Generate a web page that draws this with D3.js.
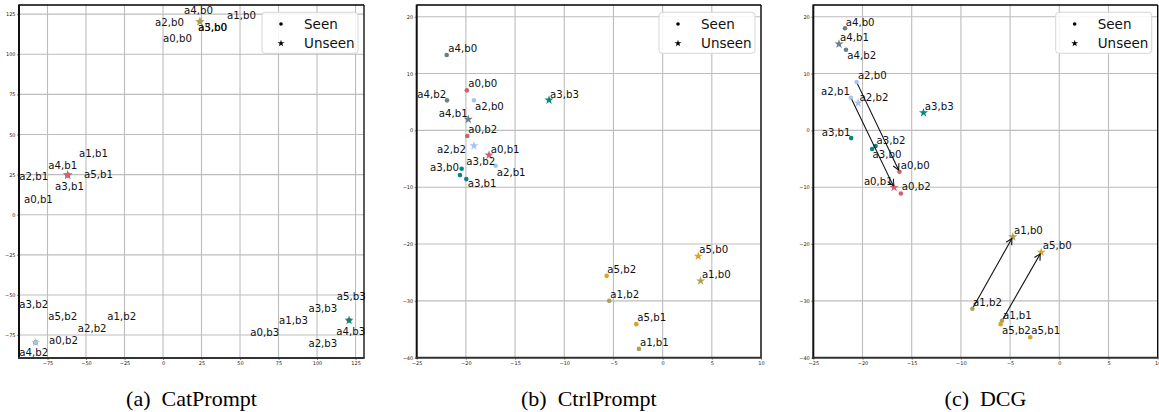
<!DOCTYPE html>
<html><head><meta charset="utf-8">
<script src="https://cdn.jsdelivr.net/npm/d3@7"></script>
<style>body{margin:0;background:#fff}svg{display:block}</style>
</head><body>
<script>
// ---------- data ----------
const attrColors = ["#d1606f","#a8a25a","#a6c3f7","#0a8580","#6d7d88","#dca32a"]; // a0..a5
const unseen = ["a4,b1","a0,b1","a5,b0","a1,b0","a2,b2","a3,b3"];
const legendItems = ["Seen","Unseen"];
const captions = ["(a)  CatPrompt","(b)  CtrlPrompt","(c)  DCG"];

const ticksA = [-75,-50,-25,0,25,50,75,100,125];
const xLimA = [-93.5,130.5], yLimA = [-89.3,130.7];
const ticksXB = [-25,-20,-15,-10,-5,0,5,10];
const ticksYB = [-40,-30,-20,-10,0,10,20];
const xLimB = [-25,10], yLimB = [-40,22.06];

// [name, x, y, labelX, labelY]
const pointsA = [
 ["a0,b0",24,120.3,0,110.0],["a1,b0",24,120.3,41.6,124.5],["a2,b0",24,120.3,-5.2,119.8],
 ["a3,b0",24,120.3,22.7,116.8],["a4,b0",24,120.3,13.6,127.6],["a5,b0",24,120.3,22.9,116.8],
 ["a0,b1",-61.9,24.7,-90.3,9.8],["a1,b1",-61.9,24.7,-54.5,38.3],["a2,b1",-61.9,24.7,-93.3,23.7],
 ["a3,b1",-61.9,24.7,-70.1,17.5],["a4,b1",-61.9,24.7,-74.5,31.0],["a5,b1",-61.9,24.7,-51.3,25.2],
 ["a0,b2",-82.7,-79.6,-74.0,-78.5],["a1,b2",-82.7,-79.6,-36.2,-63.6],["a2,b2",-82.7,-79.6,-55.4,-71.1],
 ["a3,b2",-82.7,-79.6,-93.3,-56.1],["a4,b2",-82.7,-79.6,-93.3,-85.8],["a5,b2",-82.7,-79.6,-74.5,-63.6],
 ["a0,b3",120.8,-65.8,56.7,-73.3],["a1,b3",120.8,-65.8,75.3,-65.8],["a2,b3",120.8,-65.8,94.4,-80.4],
 ["a3,b3",120.8,-65.8,94.4,-58.3],["a4,b3",120.8,-65.8,112.5,-72.9],["a5,b3",120.8,-65.8,112.8,-51.1]
];
const pointsB = [
 ["a4,b0",-21.95,13.26,-21.79,14.44],["a0,b0",-19.9,7.04,-19.76,8.27],["a2,b0",-19.18,5.28,-19.08,4.28],
 ["a4,b2",-21.92,5.28,-24.94,6.34],["a4,b1",-19.76,1.94,-22.76,2.99],["a0,b2",-19.86,-1.0,-19.76,0.18],
 ["a2,b2",-19.18,-2.71,-22.94,-3.35],["a0,b1",-17.65,-4.35,-17.48,-3.35],["a2,b1",-16.97,-6.23,-16.87,-7.39],
 ["a3,b0",-20.43,-6.76,-23.65,-6.58],["a3,b2",-20.6,-7.87,-19.96,-5.40],["a3,b1",-19.96,-8.57,-19.82,-9.33],
 ["a3,b3",-11.55,5.33,-11.45,6.39],["a5,b0",3.62,-22.13,3.72,-21.02],["a1,b0",3.86,-26.48,3.99,-25.35],
 ["a5,b2",-5.69,-25.6,-5.63,-24.47],["a1,b2",-5.43,-30.0,-5.32,-28.82],["a5,b1",-2.68,-34.1,-2.58,-32.87],
 ["a1,b1",-2.41,-38.45,-2.31,-37.32]
];
const pointsC = [
 ["a4,b0",-21.78,17.96,-21.71,19.07],["a4,b1",-22.39,15.19,-22.29,16.30],["a4,b2",-21.68,14.19,-21.55,13.20],
 ["a2,b0",-20.6,8.5,-20.47,9.61],["a2,b1",-21.18,5.74,-24.22,6.80],["a2,b2",-20.44,4.81,-20.30,5.81],
 ["a3,b3",-13.8,3.1,-13.67,4.15],["a3,b1",-21.15,-1.36,-24.15,-0.30],["a3,b2",-18.67,-2.76,-18.57,-1.71],
 ["a3,b0",-19.02,-3.29,-18.98,-4.23],["a0,b0",-16.24,-7.29,-16.11,-6.23],["a0,b1",-16.79,-10.04,-19.86,-8.93],
 ["a0,b2",-16.1,-11.1,-16.0,-9.93],["a1,b2",-8.83,-31.4,-8.77,-30.28],["a1,b0",-4.72,-18.73,-4.61,-17.55],
 ["a5,b0",-1.84,-21.43,-1.67,-20.25],["a1,b1",-5.83,-33.5,-5.73,-32.52],["a5,b2",-5.96,-34.1,-5.83,-35.28],
 ["a5,b1",-2.95,-36.4,-2.85,-35.28]
];
const arrowsC = [["a2,b0","a0,b0"],["a2,b1","a0,b1"],["a1,b2","a1,b0"],["a1,b1","a5,b0"]];

// ---------- drawing ----------
const W = 1159, H = 412;
const svg = d3.select("body").append("svg").attr("width",W).attr("height",H)
  .attr("font-family","'DejaVu Sans', sans-serif");

const defs = svg.append("defs");
defs.append("marker").attr("id","arrowHead").attr("viewBox","-10 -5 12 10")
  .attr("refX",0).attr("refY",0).attr("markerWidth",12).attr("markerHeight",10)
  .attr("markerUnits","userSpaceOnUse").attr("orient","auto")
  .append("path").attr("d","M-6,-3.2L0,0L-6,3.2").attr("fill","none")
  .attr("stroke","#111").attr("stroke-width",1.1);

const fmt = v => (v<0 ? "\u2212"+Math.abs(v) : String(v));
const colorOf = name => attrColors[+name[1]];
const star = d3.symbol().type(d3.symbolStar).size(26);
const starLegend = d3.symbol().type(d3.symbolStar).size(15);

const panels = [
  {pts:pointsA, xLim:xLimA, yLim:yLimA, xt:ticksA, yt:ticksA, box:[19,364,5,358], arrows:[]},
  {pts:pointsB, xLim:xLimB, yLim:yLimB, xt:ticksXB, yt:ticksYB, box:[416.7,761,5,357.7], arrows:[]},
  {pts:pointsC, xLim:xLimB, yLim:yLimB, xt:ticksXB, yt:ticksYB, box:[813.3,1157.7,5,357.7], arrows:arrowsC}
];

panels.forEach((p,i)=>{
  const [x0,x1,y0,y1] = p.box;
  const x = d3.scaleLinear().domain(p.xLim).range([x0,x1]);
  const y = d3.scaleLinear().domain(p.yLim).range([y1,y0]);
  const g = svg.append("g");

  // grid
  g.append("g").selectAll("line").data(p.xt).join("line")
    .attr("x1",d=>x(d)).attr("x2",d=>x(d)).attr("y1",y0).attr("y2",y1)
    .attr("stroke","#bdbdbd").attr("stroke-width",1.1);
  g.append("g").selectAll("line").data(p.yt).join("line")
    .attr("y1",d=>y(d)).attr("y2",d=>y(d)).attr("x1",x0).attr("x2",x1)
    .attr("stroke","#bdbdbd").attr("stroke-width",1.1);

  // axes
  const ax = g.append("g").attr("transform",`translate(0,${y1})`)
    .call(d3.axisBottom(x).tickValues(p.xt).tickFormat(fmt).tickSize(2).tickPadding(1.5));
  const ay = g.append("g").attr("transform",`translate(${x0},0)`)
    .call(d3.axisLeft(y).tickValues(p.yt).tickFormat(fmt).tickSize(2).tickPadding(1.5));
  [ax,ay].forEach(a=>{
    a.select(".domain").remove();
    a.selectAll("text").attr("font-size",5).attr("fill","#222").attr("font-family","'DejaVu Sans', sans-serif");
    a.selectAll("line").attr("stroke","#333").attr("stroke-width",0.6);
  });

  // points: seen then unseen
  const byName = new Map(p.pts.map(d=>[d[0],d]));
  const seen = p.pts.filter(d=>!unseen.includes(d[0]));
  const uns = unseen.map(n=>byName.get(n)).filter(Boolean);
  g.append("g").selectAll("circle").data(seen).join("circle")
    .attr("cx",d=>x(d[1])).attr("cy",d=>y(d[2])).attr("r",2.3)
    .attr("fill",d=>colorOf(d[0]));
  g.append("g").selectAll("path").data(uns).join("path")
    .attr("d",star).attr("transform",d=>`translate(${x(d[1])},${y(d[2])})`)
    .attr("fill",d=>colorOf(d[0]));

  // arrows
  g.append("g").selectAll("line").data(p.arrows).join("line")
    .each(function(d){
      const a = byName.get(d[0]), b = byName.get(d[1]);
      const ax1=x(a[1]), ay1=y(a[2]), bx=x(b[1]), by=y(b[2]);
      const len=Math.hypot(bx-ax1,by-ay1), ux=(bx-ax1)/len, uy=(by-ay1)/len;
      d3.select(this).attr("x1",ax1+ux*2).attr("y1",ay1+uy*2)
        .attr("x2",bx-ux*2).attr("y2",by-uy*2);
    })
    .attr("stroke","#111").attr("stroke-width",1.1).attr("marker-end","url(#arrowHead)");

  // labels
  g.append("g").selectAll("text").data(p.pts).join("text")
    .attr("x",d=>x(d[3])).attr("y",d=>y(d[4])).attr("dy","0.35em")
    .attr("font-size",10.2).attr("fill","#111").text(d=>d[0]);

  // frame
  g.append("line").attr("x1",x0).attr("x2",x1).attr("y1",y0).attr("y2",y0).attr("stroke","#000").attr("stroke-width",1.3);
  g.append("line").attr("x1",x1).attr("x2",x1).attr("y1",y0).attr("y2",y1).attr("stroke","#000").attr("stroke-width",1.3);
  g.append("line").attr("x1",x0).attr("x2",x0).attr("y1",y0-0.6).attr("y2",y1+1).attr("stroke","#111").attr("stroke-width",2);
  g.append("line").attr("x1",x0-1).attr("x2",x1+0.6).attr("y1",y1).attr("y2",y1).attr("stroke","#333").attr("stroke-width",2);

  // legend
  const lg = g.append("g").attr("transform",`translate(${x1-102},12.3)`);
  lg.append("rect").attr("width",96).attr("height",41).attr("rx",3)
    .attr("fill","#fff").attr("fill-opacity",0.85).attr("stroke","#d6d6d6").attr("stroke-width",1);
  legendItems.forEach((t,k)=>{
    const cy = 11.7 + k*19.3;
    if(k===0) lg.append("circle").attr("cx",19).attr("cy",cy).attr("r",1.8).attr("fill","#000");
    else lg.append("path").attr("d",starLegend).attr("transform",`translate(19,${cy})`).attr("fill","#000");
    lg.append("text").attr("x",42).attr("y",cy).attr("dy","0.35em").attr("font-size",13.5).attr("fill","#111").text(t);
  });

  // caption
  svg.append("text").attr("x",(x0+x1)/2).attr("y",406).attr("text-anchor","middle")
    .attr("font-family","'Liberation Serif', 'Times New Roman', serif").attr("font-size",22)
    .attr("fill","#000").style("white-space","pre").text(captions[i]);
});
</script>
</body></html>
